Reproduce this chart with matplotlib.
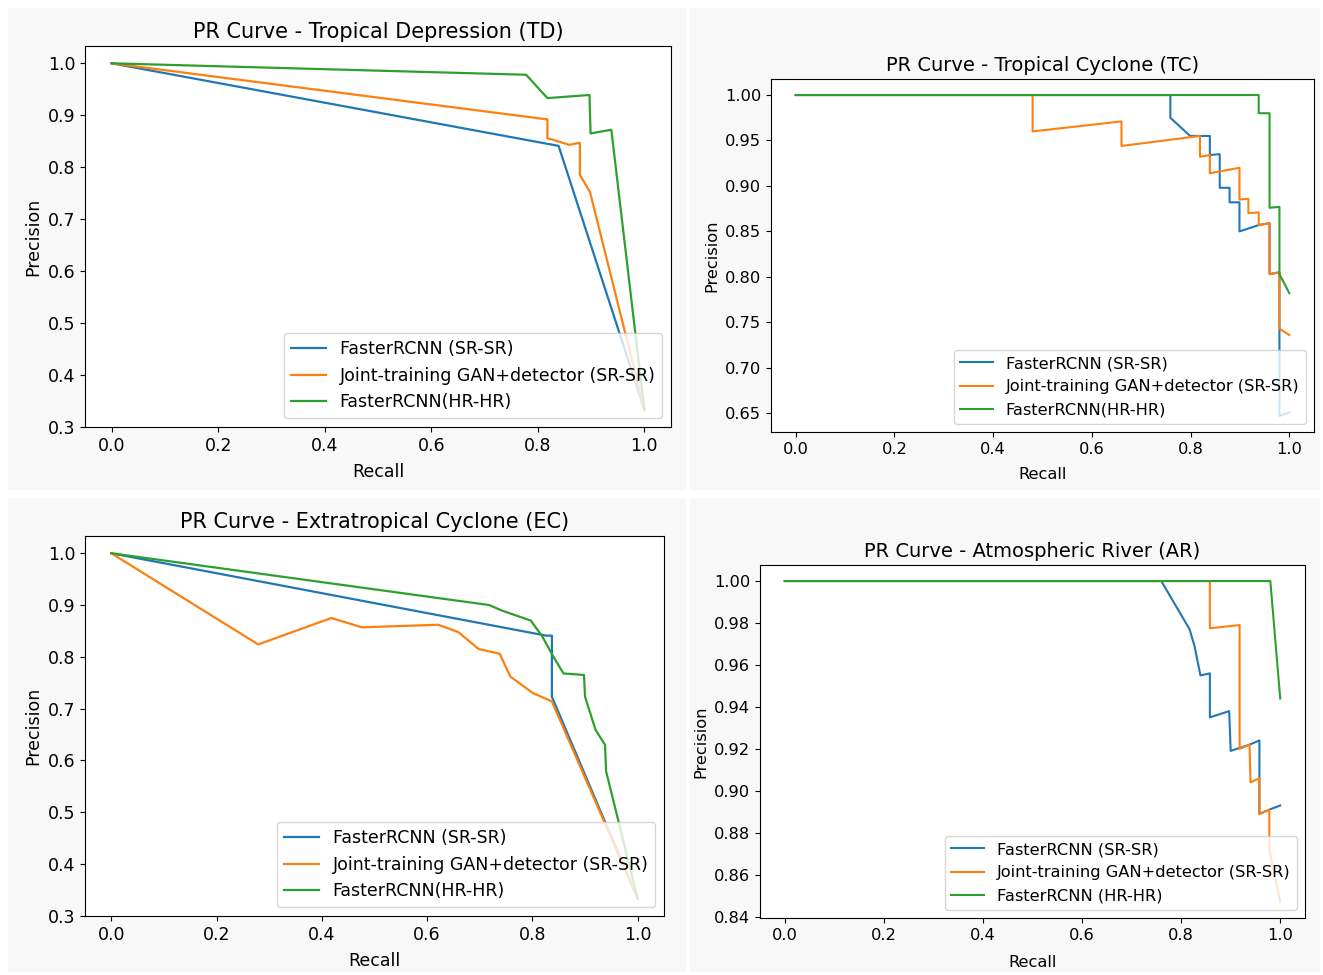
import matplotlib
matplotlib.use("Agg")
import matplotlib.pyplot as plt
from matplotlib.patches import Rectangle

# ---------------- data ----------------
labels_a = ["FasterRCNN (SR-SR)", "Joint-training GAN+detector (SR-SR)", "FasterRCNN(HR-HR)"]
labels_ar = ["FasterRCNN (SR-SR)", "Joint-training GAN+detector (SR-SR)", "FasterRCNN (HR-HR)"]

# Tropical Depression
td_sr_recall = [0.0, 0.839, 1.0]
td_sr_prec = [1.0, 0.841, 0.333]
td_joint_recall = [0.0, 0.818, 0.818, 0.859, 0.879, 0.879, 0.898, 1.0]
td_joint_prec = [1.0, 0.892, 0.856, 0.843, 0.847, 0.785, 0.752, 0.333]
td_hr_recall = [0.0, 0.778, 0.818, 0.897, 0.899, 0.938, 1.0]
td_hr_prec = [1.0, 0.978, 0.933, 0.939, 0.865, 0.872, 0.333]

# Tropical Cyclone
tc_sr_recall = [0.0, 0.759, 0.759, 0.799, 0.839, 0.839, 0.859, 0.859, 0.879, 0.879,
                0.899, 0.899, 0.938, 0.960, 0.960, 0.980, 0.980, 1.0]
tc_sr_prec = [1.0, 1.0, 0.975, 0.955, 0.955, 0.934, 0.935, 0.898, 0.898, 0.882,
              0.882, 0.850, 0.857, 0.859, 0.803, 0.805, 0.647, 0.651]
tc_joint_recall = [0.0, 0.480, 0.480, 0.660, 0.660, 0.819, 0.819, 0.839, 0.839, 0.899,
                   0.899, 0.917, 0.917, 0.938, 0.938, 0.960, 0.960, 0.980, 0.980, 1.0]
tc_joint_prec = [1.0, 1.0, 0.960, 0.971, 0.944, 0.955, 0.932, 0.934, 0.914, 0.920,
                 0.885, 0.886, 0.870, 0.871, 0.857, 0.859, 0.803, 0.805, 0.743, 0.736]
tc_hr_recall = [0.0, 0.938, 0.938, 0.960, 0.960, 0.980, 0.980, 1.0]
tc_hr_prec = [1.0, 1.0, 0.980, 0.980, 0.876, 0.877, 0.803, 0.782]

# Extratropical Cyclone
ec_sr_recall = [0.0, 0.826, 0.837, 0.837, 1.0]
ec_sr_prec = [1.0, 0.841, 0.841, 0.723, 0.333]
ec_joint_recall = [0.0, 0.279, 0.418, 0.476, 0.621, 0.659, 0.698, 0.738, 0.758, 0.801, 0.837, 1.0]
ec_joint_prec = [1.0, 0.824, 0.875, 0.857, 0.862, 0.848, 0.815, 0.806, 0.762, 0.730, 0.714, 0.333]
ec_hr_recall = [0.0, 0.718, 0.743, 0.797, 0.819, 0.840, 0.859, 0.898, 0.900, 0.920, 0.938, 0.940, 1.0]
ec_hr_prec = [1.0, 0.900, 0.889, 0.870, 0.839, 0.800, 0.768, 0.765, 0.723, 0.659, 0.630, 0.579, 0.333]

# Atmospheric River
ar_sr_recall = [0.0, 0.760, 0.817, 0.827, 0.839, 0.858, 0.858, 0.897, 0.900, 0.938, 0.958,
                0.958, 0.978, 1.0]
ar_sr_prec = [1.0, 1.0, 0.977, 0.969, 0.955, 0.956, 0.935, 0.938, 0.919, 0.922, 0.924,
              0.889, 0.891, 0.893]
ar_joint_recall = [0.0, 0.858, 0.858, 0.918, 0.918, 0.938, 0.940, 0.958, 0.958, 0.978, 0.978, 1.0]
ar_joint_prec = [1.0, 1.0, 0.9775, 0.979, 0.920, 0.922, 0.904, 0.906, 0.889, 0.891, 0.872, 0.847]
ar_hr_recall = [0.0, 0.980, 1.0]
ar_hr_prec = [1.0, 1.0, 0.944]

# ---------------- figure ----------------
W, H = 1323, 975
fig = plt.figure(figsize=(W / 100, H / 100), dpi=100, facecolor="white")

def px_rect(x0, y0, x1, y1):
    return [x0 / W, 1 - y1 / H, (x1 - x0) / W, (y1 - y0) / H]

bg = "#f8f8f8"
for (x0, y0, x1, y1) in [(8, 8, 686, 490), (690, 8, 1320, 490),
                         (8, 498, 686, 972), (690, 498, 1320, 972)]:
    r = px_rect(x0, y0, x1, y1)
    fig.patches.append(Rectangle((r[0], r[1]), r[2], r[3], transform=fig.transFigure,
                                 facecolor=bg, edgecolor="none", zorder=-10))

panels = [
    ("PR Curve - Tropical Depression (TD)", px_rect(85, 46, 671, 427), 1.0, 6,
     [(td_sr_recall, td_sr_prec), (td_joint_recall, td_joint_prec), (td_hr_recall, td_hr_prec)], labels_a),
    ("PR Curve - Tropical Cyclone (TC)", px_rect(771, 79, 1314, 432), 0.935, 7.5,
     [(tc_sr_recall, tc_sr_prec), (tc_joint_recall, tc_joint_prec), (tc_hr_recall, tc_hr_prec)], labels_a),
    ("PR Curve - Extratropical Cyclone (EC)", px_rect(85, 536, 664, 916), 1.0, 6,
     [(ec_sr_recall, ec_sr_prec), (ec_joint_recall, ec_joint_prec), (ec_hr_recall, ec_hr_prec)], labels_a),
    ("PR Curve - Atmospheric River (AR)", px_rect(760, 565, 1305, 918), 0.935, 9,
     [(ar_sr_recall, ar_sr_prec), (ar_joint_recall, ar_joint_prec), (ar_hr_recall, ar_hr_prec)], labels_ar),
]

colors = ["#1f77b4", "#ff7f0e", "#2ca02c"]
for title, rect, s, lpad, series, labels in panels:
    ax = fig.add_axes(rect)
    for (rx, py), lab, c in zip(series, labels, colors):
        ax.plot(rx, py, color=c, lw=1.6 * s, label=lab)
    ax.set_title(title, fontsize=15 * s)
    ax.set_xlabel("Recall", fontsize=12.5 * s, labelpad=lpad)
    ax.set_ylabel("Precision", fontsize=12.5 * s)
    ax.tick_params(labelsize=12.5 * s)
    ax.legend(loc="lower right", fontsize=12.5 * s)

fig.savefig("out.png", dpi=100, facecolor="white")
